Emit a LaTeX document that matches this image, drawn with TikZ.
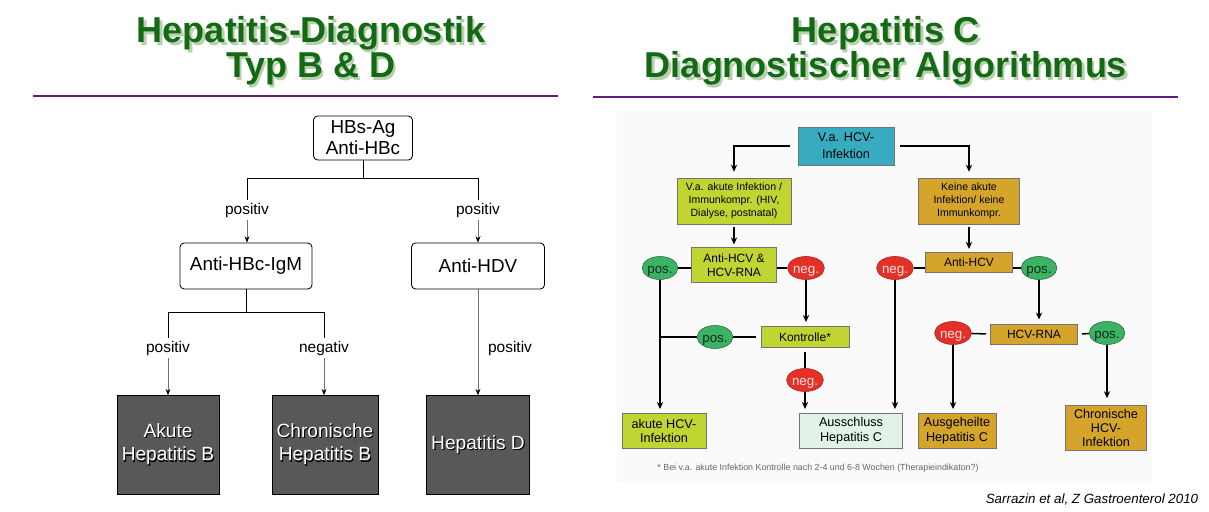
\documentclass[tikz,border=0pt]{standalone}
\usepackage{fontspec}
\setmainfont{Liberation Sans}
\usetikzlibrary{positioning, arrows.meta, shapes.geometric}

\definecolor{titlegreen}{RGB}{20,105,20}
\definecolor{titleshade}{RGB}{185,208,175}
\definecolor{rulepurple}{RGB}{95,30,125}
\definecolor{darkbox}{RGB}{88,88,88}
\definecolor{hcvteal}{RGB}{55,172,192}
\definecolor{hcvlime}{RGB}{192,212,50}
\definecolor{hcvgold}{RGB}{212,165,42}
\definecolor{hcvmint}{RGB}{226,242,230}
\definecolor{posgreen}{RGB}{60,178,100}
\definecolor{negred}{RGB}{228,48,38}

% text with a drop shadow: [offset]{shadow colour}{text}
\newcommand{\shtxt}[3][1pt]{\rlap{\kern#1\raisebox{-#1}{\textcolor{#2}{#3}}}#3}

\begin{document}
\begin{tikzpicture}[x=0.025cm, y=-0.025cm,
        titletext/.style={text=titlegreen, anchor=base, inner sep=0pt, font=\bfseries\fontsize{25.6}{25}\selectfont},
        rule/.style={draw=rulepurple, line width=2.1pt},
        testbox/.style={draw, rounded corners=3pt, line width=0.6pt, align=center, font=\fontsize{13.4}{15}\selectfont},
        resbox/.style={draw, fill=darkbox, text=white, minimum width=2.475cm, minimum height=2.475cm, align=center, font=\fontsize{13.6}{16.5}\selectfont},
        lab/.style={font=\fontsize{11}{13}\selectfont, inner sep=2pt},
        tline/.style={line width=0.6pt},
        tarr/.style={draw=black!55, line width=0.5pt, -{Stealth[length=4.5pt, width=3.5pt, black]}},
        hbox/.style={draw=black!55, line width=0.4pt, align=center, inner sep=1pt, font=\fontsize{8.5}{10}\selectfont},
        pill/.style={ellipse, draw, minimum width=0.8cm, minimum height=0.575cm, inner sep=0pt, text height=1.6ex, text depth=0pt, font=\fontsize{9.5}{10}\selectfont},
        posnode/.style={pill, fill=posgreen, draw=posgreen!60!black, text=posgreen!25!black},
        negnode/.style={pill, fill=negred, draw=negred!70!black, text=red!10!white},
        hline/.style={line width=1.1pt},
        harr/.style={line width=1.1pt, -{Stealth[length=5pt, width=4.5pt]}}]
        \useasboundingbox (0,0) rectangle (1209,512);

        % titles
        \node[titletext] (ltitle1) at (311,43) {\shtxt[1.5pt]{titleshade}{Hepatitis-Diagnostik}};
        \node[titletext] (ltitle2) at (311,78) {\shtxt[1.5pt]{titleshade}{Typ B \& D}};
        \node[titletext] (rtitle1) at (886,43) {\shtxt[1.5pt]{titleshade}{Hepatitis C}};
        \node[titletext] (rtitle2) at (886,78) {\shtxt[1.5pt]{titleshade}{Diagnostischer Algorithmus}};
        \draw[rule] (33,96) -- (558,96);
        \draw[rule] (593,97) -- (1178,97);

        % Typ B & D
        \node[testbox, minimum width=2.475cm, minimum height=1.1cm] (hbs) at (363,138) {HBs-Ag\\Anti-HBc};
        \node[testbox, minimum width=3.3cm, minimum height=1.15cm] (igm) at (246,266) {Anti-HBc-IgM};
        \node[testbox, minimum width=3.325cm, minimum height=1.15cm] (hdv) at (478,266) {Anti-HDV};
        \node[resbox] (akb) at (168,445) {\shtxt[0.8pt]{black}{Akute}\\\shtxt[0.8pt]{black}{Hepatitis B}};
        \node[resbox] (chb) at (325,445) {\shtxt[0.8pt]{black}{Chronische}\\\shtxt[0.8pt]{black}{Hepatitis B}};
        \node[resbox] (hpd) at (478,445) {\shtxt[0.8pt]{black}{Hepatitis D}};

        \node[lab] (p1) at (247,210) {positiv};
        \node[lab] (p2) at (478,210) {positiv};
        \node[lab] (p3) at (168,348) {positiv};
        \node[lab] (n3) at (324,348) {negativ};
        \node[lab] (p5) at (510,348) {positiv};
        \coordinate (fork1l) at (247,178);
        \coordinate (fork1r) at (478,178);
        \coordinate (fork2l) at (168,312);
        \coordinate (fork2r) at (324,312);

        \draw[tline] (hbs) -- (hbs |- fork1l);
        \draw[tline] (p1) -- (fork1l) -- (fork1r) -- (p2);
        \draw[tarr] (p1) -- (p1 |- igm.north);
        \draw[tarr] (p2) -- (hdv);
        \draw[tline] (igm) -- (igm |- fork2l);
        \draw[tline] (p3) -- (fork2l) -- (fork2r) -- (n3);
        \draw[tarr] (p3) -- (akb);
        \draw[tarr] (n3) -- (n3 |- chb.north);
        \draw[tarr] (hdv) -- (hpd);

        % Hepatitis C
        \fill[black!2] (617,112) rectangle (1152,482);
        \node[hbox, fill=hcvteal, minimum width=2.4cm, minimum height=0.95cm, font=\fontsize{9}{12}\selectfont] (vahcv) at (846,146) {V.a. HCV-\\Infektion};
        \node[hbox, fill=hcvlime, minimum width=2.85cm, minimum height=1.15cm, font=\fontsize{7.5}{9.3}\selectfont] (akut) at (734,201) {V.a. akute Infektion /\\Immunkompr. (HIV,\\Dialyse, postnatal)};
        \node[hbox, fill=hcvgold, minimum width=2.525cm, minimum height=1.15cm, font=\fontsize{7.5}{9.3}\selectfont] (keine) at (969,201) {Keine akute\\Infektion/ keine\\Immunkompr.};
        \node[hbox, fill=hcvlime, minimum width=2.125cm, minimum height=0.875cm] (both) at (734,265) {Anti-HCV \&\\HCV-RNA};
        \node[hbox, fill=hcvgold, minimum width=2.175cm, minimum height=0.5cm] (ahcv) at (969,262) {Anti-HCV};
        \node[posnode] (pos1) at (660,268) {pos.};
        \node[negnode] (neg1) at (806,268) {neg.};
        \node[negnode] (neg2) at (895,268) {neg.};
        \node[posnode] (pos2) at (1039,268) {pos.};
        \node[hbox, fill=hcvlime, minimum width=2.2cm, minimum height=0.525cm] (kontr) at (805,337) {Kontrolle*};
        \node[posnode] (pos3) at (715,337) {pos.};
        \node[negnode] (neg3) at (805,380) {neg.};
        \node[hbox, fill=hcvgold, minimum width=2.175cm, minimum height=0.5cm] (rna) at (1034,334) {HCV-RNA};
        \node[negnode] (neg4) at (953,333) {neg.};
        \node[posnode] (pos4) at (1107,333) {pos.};
        \node[hbox, fill=hcvlime, minimum width=2.1cm, minimum height=0.875cm, font=\fontsize{9}{10.5}\selectfont] (akhcv) at (664,431) {akute HCV-\\Infektion};
        \node[hbox, fill=hcvmint, minimum width=2.575cm, minimum height=0.875cm, font=\fontsize{9}{10.5}\selectfont] (aus) at (851,431) {Ausschluss\\Hepatitis C};
        \node[hbox, fill=hcvgold, minimum width=1.95cm, minimum height=0.875cm, font=\fontsize{9}{10.5}\selectfont] (heal) at (957,431) {Ausgeheilte\\Hepatitis C};
        \node[hbox, fill=hcvgold, minimum width=2.025cm, minimum height=1.125cm, font=\fontsize{9}{10}\selectfont] (chron) at (1106,428) {Chronische\\HCV-\\Infektion};

        \draw[harr, shorten <=0.2cm, shorten >=0.15cm] (vahcv.west) -| (akut.north);
        \draw[harr, shorten <=0.15cm, shorten >=0.15cm] (vahcv.east) -| (keine.north);
        \draw[harr, shorten <=2pt, shorten >=2pt] (akut) -- (both);
        \draw[harr, shorten <=2pt, shorten >=2pt] (keine) -- (ahcv);
        \draw[hline] (pos1.east) -- (pos1 -| both.west);
        \draw[hline] (neg1.west) -- (neg1 -| both.east);
        \draw[hline] (neg2.east) -- (neg2 -| ahcv.west);
        \draw[hline] (pos2.west) -- (pos2 -| ahcv.east);
        \draw[harr, shorten >=3pt] (pos1) -- (pos1 |- akhcv.north);
        \draw[harr, shorten >=3pt] (neg1) -- (neg1 |- kontr.north);
        \draw[hline, shorten <=3pt] (kontr.west) -- (pos3);
        \draw[hline] (pos3) -- (pos3 -| pos1);
        \draw[hline, shorten <=3pt] (kontr) -- (neg3);
        \draw[harr, shorten >=3pt] (neg3) -- (neg3 |- aus.north);
        \draw[harr, shorten >=3pt] (neg2) -- (neg2 |- aus.north);
        \draw[harr, shorten >=3pt] (pos2) -- (pos2 |- rna.north);
        \draw[hline, shorten <=3pt] (rna.west) -- (neg4);
        \draw[hline, shorten <=3pt] (rna.east) -- (pos4);
        \draw[harr, shorten >=3pt] (neg4) -- (neg4 |- heal.north);
        \draw[harr, shorten >=5pt] (pos4) -- (pos4 |- chron.north);

        \node[font=\fontsize{6.3}{7}\selectfont, text=black!60] (note) at (818,468) {* Bei v.a. akute Infektion Kontrolle nach 2-4 und 6-8 Wochen (Therapieindikaton?)};
        \node[font=\itshape\fontsize{9.5}{11}\selectfont] (cite) at (1092,500) {Sarrazin et al, Z Gastroenterol 2010};
\end{tikzpicture}
\end{document}
